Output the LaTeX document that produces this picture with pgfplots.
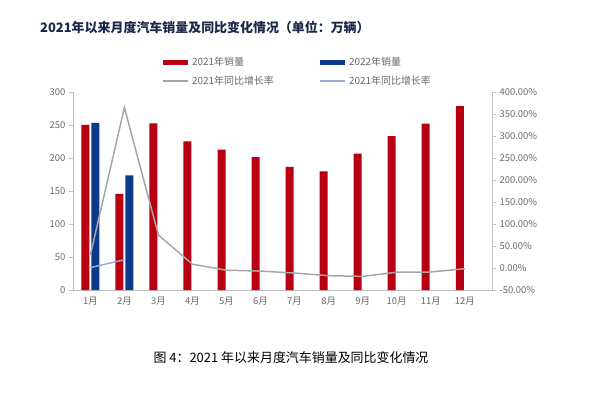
\documentclass[border=0pt]{standalone}
\usepackage{pgfplots}
\pgfplotsset{compat=1.18}
\usepackage{fontspec}
\setmainfont{Noto Sans CJK SC}
\definecolor{redbar}{RGB}{184,0,18}
\definecolor{bluebar}{RGB}{12,58,138}
\definecolor{gline}{RGB}{166,166,166}
\definecolor{bline}{RGB}{150,172,205}
\definecolor{axisgray}{RGB}{191,191,191}
\definecolor{ticktext}{RGB}{105,105,105}
\definecolor{titleblue}{RGB}{28,40,72}
\begin{document}
\begin{tikzpicture}[x=1bp,y=1bp]
\path[use as bounding box] (0,0) rectangle (596,392);
\begin{axis}[
  at={(73bp,102bp)}, anchor=south west,
  scale only axis, width=419bp, height=198bp,
  xmin=0.49, xmax=12.8, ymin=0, ymax=300,
  axis y line*=left, axis x line*=bottom,
  axis line style={axisgray, line width=0.8pt, -},
  ytick={0,50,...,300},
  xtick={1,...,12},
  xticklabels={1月,2月,3月,4月,5月,6月,7月,8月,9月,10月,11月,12月},
  x tick style={draw=none},
  y tick style={axisgray, line width=0.6pt},
  tick align=outside, major tick length=4bp,
  ticklabel style={font=\fontsize{9.5}{10}\selectfont, text=ticktext},
  /pgf/number format/assume math mode=true,
  bar width=8bp,
]
\addplot[ybar, bar shift=-5bp, fill=redbar, draw=none] coordinates {
(1,250.3)(2,145.5)(3,252.6)(4,225.2)(5,212.8)(6,201.5)(7,186.4)(8,179.9)(9,206.7)(10,233.2)(11,252.2)(12,278.6)};
\addplot[ybar, bar shift=5bp, fill=bluebar, draw=none] coordinates {(1,253.1)(2,173.7)};
\end{axis}
\begin{axis}[
  at={(73bp,102bp)}, anchor=south west,
  scale only axis, width=419bp, height=198bp,
  xmin=0.49, xmax=12.8, ymin=-50, ymax=400,
  axis y line*=right, axis x line=none,
  axis line style={axisgray, line width=0.8pt, -},
  ytick={-50,0,...,400},
  yticklabel={\pgfmathprintnumber[fixed,fixed zerofill,precision=2]{\tick}\%},
  y tick style={axisgray, line width=0.6pt},
  tick align=outside, major tick length=4bp,
  ticklabel style={font=\fontsize{9.5}{10}\selectfont, text=ticktext},
  /pgf/number format/assume math mode=true,
]
\addplot[gline, line width=1.5pt] coordinates {
(1,29.5)(2,364.6)(3,74.9)(4,8.6)(5,-5)(6,-7)(7,-11.5)(8,-17.5)(9,-19)(10,-9.5)(11,-9.1)(12,-1.6)};
\addplot[bline, line width=1.5pt] coordinates {(1,0.9)(2,18.7)};
\end{axis}
% legend
\fill[redbar] (163,327.5) rectangle (188,332.5);
\node[anchor=west, text=ticktext, font=\fontsize{10}{12}\selectfont] at (188.5,330) {2021年销量};
\fill[bluebar] (320,327.5) rectangle (345,332.5);
\node[anchor=west, text=ticktext, font=\fontsize{10}{12}\selectfont] at (345.5,330) {2022年销量};
\draw[gline, line width=1.5pt] (163,311) -- (188,311);
\node[anchor=west, text=ticktext, font=\fontsize{10}{12}\selectfont] at (188.5,311) {2021年同比增长率};
\draw[bline, line width=1.5pt] (320,311) -- (345,311);
\node[anchor=west, text=ticktext, font=\fontsize{10}{12}\selectfont] at (345.5,311) {2021年同比增长率};
% title
\node[anchor=west, inner sep=0pt, text=titleblue, font=\bfseries\fontsize{13}{15}\selectfont] at (40,364) {2021年以来月度汽车销量及同比变化情况（单位：万辆）};
% caption
\node[text=black, font=\fontsize{13}{15}\selectfont] at (291,34) {图 4：2021 年以来月度汽车销量及同比变化情况};
\end{tikzpicture}
\end{document}
